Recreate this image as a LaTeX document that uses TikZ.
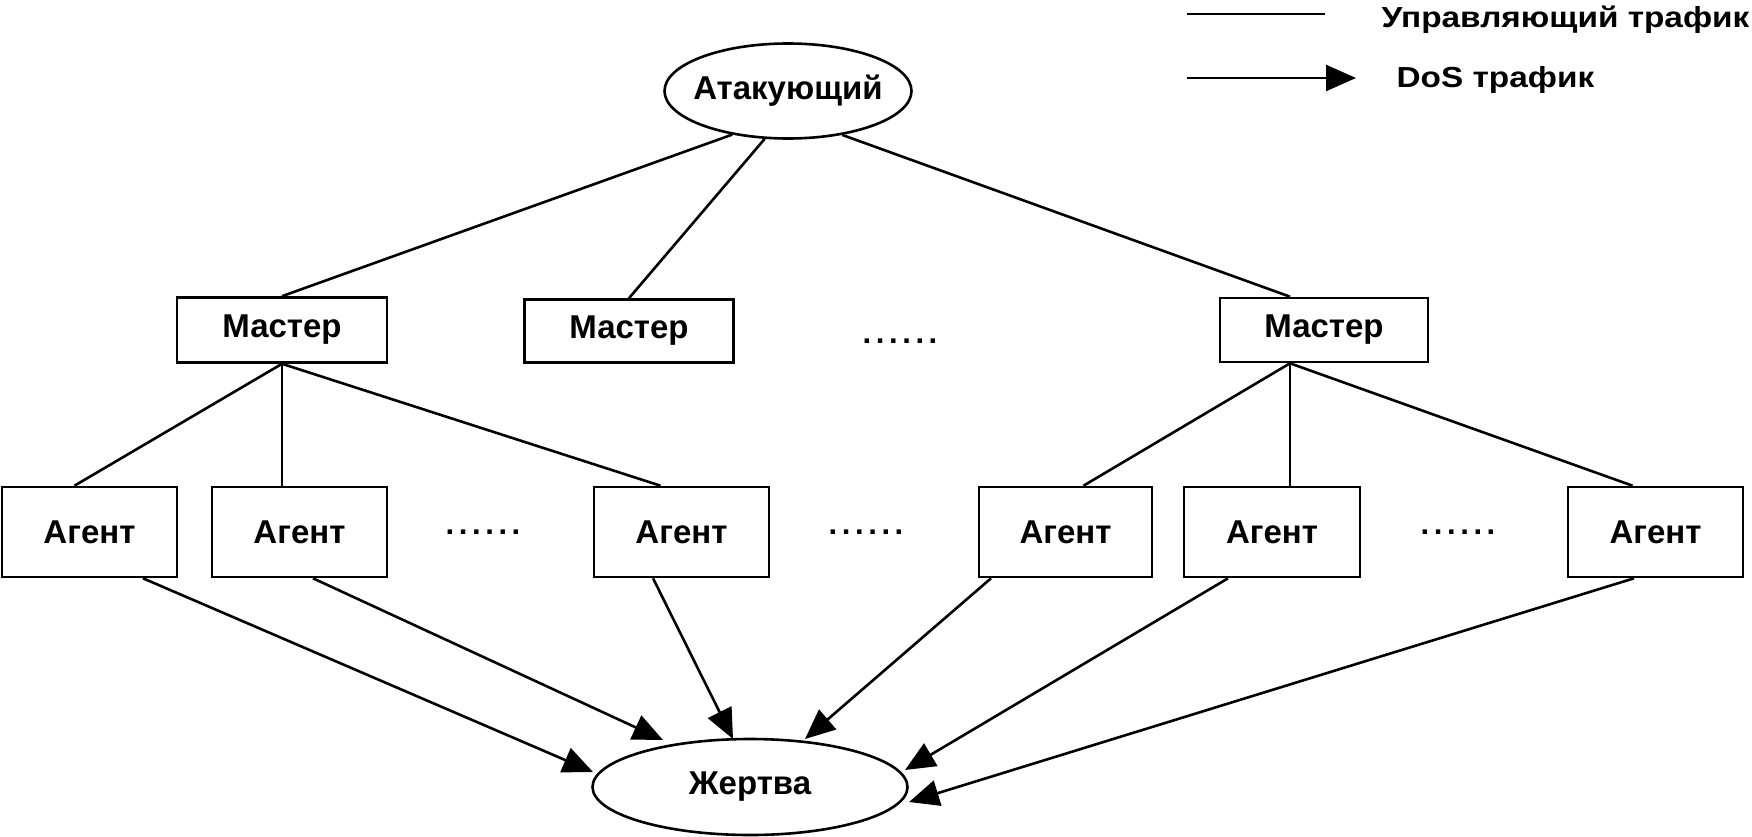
\documentclass[tikz,border=0pt]{standalone}
\usepackage{fontspec}
\setmainfont{Liberation Sans}
\newfontfamily\legfont{Liberation Sans}[FakeStretch=1.15]
\usetikzlibrary{shapes.geometric,arrows.meta,calc}
\newcommand{\mydots}{.\kern4.6pt.\kern4.6pt.\kern4.6pt.\kern4.6pt.\kern4.6pt.}
\begin{document}
\begin{tikzpicture}[x=1pt,y=-1pt,line width=2.6pt,
  lbl/.style={font=\fontsize{33}{38}\selectfont\bfseries},
  leg/.style={font=\legfont\fontsize{29}{34}\selectfont\bfseries},
  box/.style={draw,rectangle,inner sep=0pt,lbl},
  ell/.style={draw,ellipse,inner xsep=-25pt,inner ysep=-8pt,lbl},
  dos/.style={-{Triangle[length=30pt,width=26pt]}},
  dotsn/.style={font=\fontsize{31}{36}\selectfont\bfseries,inner sep=0pt}]
\useasboundingbox (0,0) rectangle (1752,837);
\fill[white] (0,0) rectangle (1752,837);

% legend
\coordinate (l1a) at (1187,14);
\coordinate (l1b) at (1325,14);
\draw (l1a) -- (l1b);
\node[leg,anchor=west] (t1) at (1377,20) {Управляющий трафик};
\coordinate (l2a) at (1187,78);
\coordinate (l2b) at (1356,78);
\draw[dos] (l2a) -- (l2b);
\node[leg,anchor=west] (t2) at (1392,80) {DoS трафик};

% nodes
\node[ell,minimum width=247pt,minimum height=95pt] (att) at (788,91) {Атакующий};
\node[box,minimum width=210pt,minimum height=65pt] (m1) at (282,330) {Мастер};
\node[box,minimum width=209pt,minimum height=63pt] (m2) at (629,331) {Мастер};
\node[box,minimum width=208pt,minimum height=64pt] (m3) at (1324,330) {Мастер};
\node[dotsn] (d0) at (900,341) {\mydots};

\node[box,minimum width=175pt,minimum height=90pt] (a1) at (89.5,532) {Агент};
\node[box,minimum width=175pt,minimum height=90pt] (a2) at (299.5,532) {Агент};
\node[dotsn] (d1) at (483,532) {\mydots};
\node[box,minimum width=175pt,minimum height=90pt] (a3) at (681.5,532) {Агент};
\node[dotsn] (d2) at (866,532) {\mydots};
\node[box,minimum width=173pt,minimum height=90pt] (a4) at (1065.5,532) {Агент};
\node[box,minimum width=176pt,minimum height=90pt] (a5) at (1272,532) {Агент};
\node[dotsn] (d3) at (1458,532) {\mydots};
\node[box,minimum width=175pt,minimum height=90pt] (a6) at (1655.5,532) {Агент};

\node[ell,minimum width=315pt,minimum height=96pt] (v) at (750,787) {Жертва};

% control traffic
\draw (att.218) -- (m1.north);
\draw (att.244) -- (m2.north);
\draw (att.321) -- ([xshift=-34pt]m3.north);

\draw (m1.south) -- ([xshift=-15pt]a1.north);
\draw (m1.south) -- ([xshift=-17.5pt]a2.north);
\draw (m1.south) -- ([xshift=-21pt]a3.north);

\draw ([xshift=-34pt]m3.south) -- ([xshift=18pt]a4.north);
\draw ([xshift=-34pt]m3.south) -- ([xshift=18pt]a5.north);
\draw ([xshift=-34pt]m3.south) -- ([xshift=-23pt]a6.north);

% DoS traffic
\draw[dos] ([xshift=53.5pt]a1.south) -- ($(v.center)+(-157,-15)$);
\draw[dos] ([xshift=13.5pt]a2.south) -- ($(v.center)+(-87,-47)$);
\draw[dos] ([xshift=-28.5pt]a3.south) -- ($(v.center)+(-17,-48)$);
\draw[dos] ([xshift=-74.5pt]a4.south) -- ($(v.center)+(55,-48)$);
\draw[dos] ([xshift=-44pt]a5.south) -- ($(v.center)+(155,-17)$);
\draw[dos] ([xshift=-21.5pt]a6.south) -- ($(v.center)+(159,15)$);
\end{tikzpicture}
\end{document}
